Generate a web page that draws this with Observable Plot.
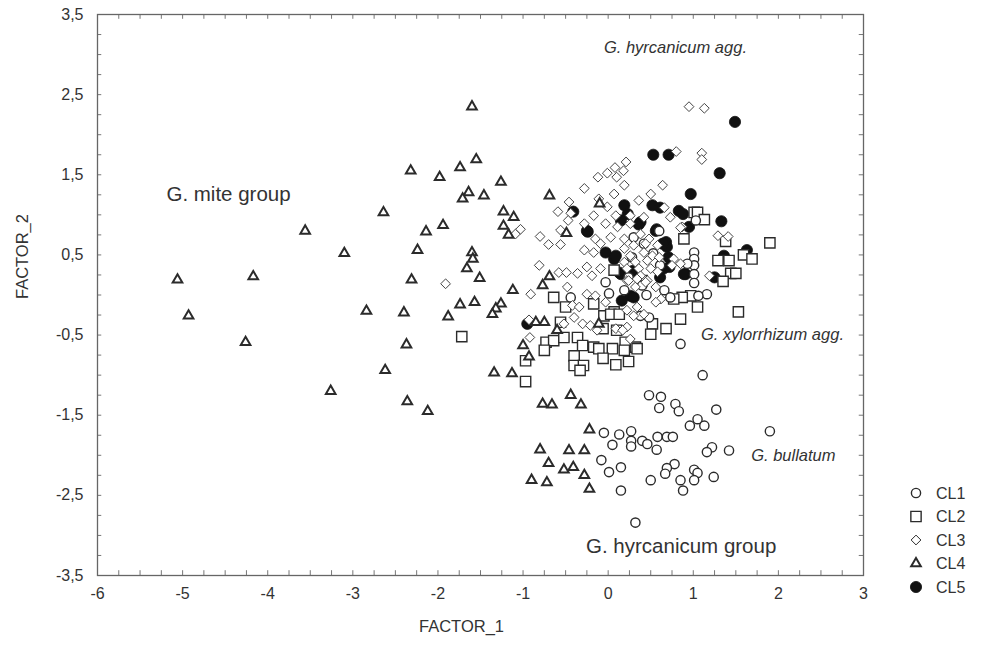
<!DOCTYPE html>
<html>
<head>
<meta charset="utf-8">
<script src="https://cdn.jsdelivr.net/npm/d3@7"></script>
<script src="https://cdn.jsdelivr.net/npm/@observablehq/plot@0.6"></script>
<style>
  html, body { margin: 0; padding: 0; background: #fff; }
  #wrap { position: relative; width: 994px; height: 648px; }
  #legend { position: absolute; left: 904px; top: 482px; }
</style>
</head>
<body>
<div id="wrap"><div id="chart"></div><div id="legend"></div></div>
<script>
// ---- data: [FACTOR_1, FACTOR_2] per cluster ----
const cl1 = [
  [1.03,0.93],[1.01,0.53],[1.01,0.45],[1.01,0.37],[1.01,0.26],[1.01,0.15],[1.16,0.01],[1.06,-0.01],
  [0.30,0.72],[0.42,0.64],[0.28,0.47],[0.24,0.22],[0.40,0.12],[0.93,0.39],[0.60,0.80],[-0.03,0.16],
  [0.19,0.06],[0.66,0.06],[-0.44,-0.03],[0.38,-0.26],[0.48,-0.28],[0.85,-0.61],[1.11,-1.00],[0.53,0.52],[0.61,0.37],
  [0.01,0.02],[0.73,-0.03],[0.45,0.00],
  [0.48,-1.25],[-0.05,-1.72],[0.13,-1.74],[0.27,-1.70],[0.05,-1.87],[0.27,-1.82],[0.27,-1.89],[0.40,-1.82],
  [0.46,-1.86],[-0.08,-2.06],[0.01,-2.21],[0.15,-2.15],[0.50,-2.31],[0.15,-2.44],[0.32,-2.84],
  [0.62,-1.27],[0.60,-1.41],[0.79,-1.36],[0.83,-1.45],[1.27,-1.43],[1.05,-1.55],[0.96,-1.63],[1.13,-1.63],
  [0.58,-1.77],[0.69,-1.77],[0.76,-1.77],[0.57,-1.93],[1.22,-1.90],[1.16,-1.96],[1.42,-1.94],[1.90,-1.70],
  [0.78,-2.11],[0.69,-2.16],[0.67,-2.23],[0.85,-2.31],[0.88,-2.44],[1.01,-2.18],[1.05,-2.22],[1.01,-2.31],[1.24,-2.27]
];
const cl2 = [
  [-1.72,-0.52],[0.89,0.70],[1.01,1.03],[1.05,1.03],[1.13,0.94],[1.38,0.67],[1.90,0.65],[1.59,0.50],[1.69,0.45],
  [1.29,0.43],[1.42,0.43],[1.44,0.27],[1.50,0.27],[1.35,0.17],[0.97,-0.01],[0.87,-0.03],[0.77,-0.05],[0.07,0.31],
  [0.40,0.18],[1.05,-0.15],[1.53,-0.21],[0.85,-0.30],[0.68,-0.42],[0.52,-0.36],[0.50,-0.49],[0.32,-0.65],
  [-0.05,-0.26],[0.07,-0.21],[0.20,-0.59],
  [-0.64,-0.03],[-0.50,-0.15],[-0.17,-0.11],[0.03,-0.24],[0.13,-0.24],[-0.56,-0.34],[-0.06,-0.42],[0.10,-0.44],
  [-0.73,-0.59],[-0.64,-0.57],[-0.52,-0.53],[-0.75,-0.69],[-0.36,-0.53],[-0.30,-0.63],[-0.17,-0.65],[-0.11,-0.67],
  [-0.40,-0.76],[-0.40,-0.88],[-0.29,-0.88],[-0.33,-0.94],[0.05,-0.67],[0.19,-0.69],[-0.06,-0.79],[0.09,-0.87],
  [0.24,-0.83],[0.34,-0.67],[-0.97,-0.82],[-0.97,-1.08]
];
const cl3 = [
  [-1.91,0.14],[0.95,2.35],[1.13,2.33],[0.80,1.79],[1.10,1.77],[1.10,1.69],
  [-1.03,0.82],[-1.09,0.76],[-0.80,0.73],[-0.70,0.63],[-0.56,0.63],[-0.56,0.81],[-0.59,1.04],[-0.46,1.16],
  [-0.12,1.47],[-0.01,1.52],[0.08,1.59],[0.21,1.66],[0.18,1.55],[0.10,1.47],[-0.44,1.02],[-0.47,0.93],
  [-0.81,0.37],[-0.58,0.28],[-0.49,0.28],[-0.36,0.27],
  [-0.28,1.33],[0.07,1.26],[0.19,1.37],[0.36,1.18],[0.50,1.26],[-0.11,1.20],[-0.01,1.10],[-0.17,0.99],
  [0.09,0.99],[0.26,0.99],[0.42,0.97],[-0.28,0.89],[-0.03,0.89],[0.11,0.85],[0.26,0.89],[0.38,0.76],
  [-0.15,0.70],[-0.09,0.64],[0.03,0.72],[0.19,0.70],[0.48,0.70],[0.30,0.62],[0.44,0.64],[0.58,0.62],
  [-0.17,0.53],[-0.28,0.56],[0.19,0.58],[0.26,0.49],[0.42,0.53],[0.52,0.49],[-0.25,0.35],[-0.09,0.33],
  [-0.19,0.24],[0.19,0.41],[0.32,0.41],[0.46,0.43],[0.60,0.47],[0.77,0.45],[0.85,0.39],[0.22,0.33],
  [0.36,0.33],[0.50,0.33],[0.75,0.37],[0.38,0.24],[0.58,0.29],[0.22,0.18],[0.46,0.18],[0.32,0.10],
  [0.56,0.10],[0.87,0.85],[0.73,0.97],[0.64,1.37],
  [1.29,0.74],[1.41,0.73],[1.19,0.24],[0.66,1.09],[0.85,0.84],
  [-0.91,0.01],[-0.93,-0.31],[-0.92,-0.53],[-0.48,0.10],[-0.42,-0.13],[-0.34,-0.15],[-0.52,-0.36],[-0.40,-0.28],
  [-0.30,-0.36],[-0.21,-0.38],[-0.25,0.01],[-0.15,-0.01],[-0.03,-0.09],[0.22,-0.19],[0.34,-0.15],[0.24,0.18],
  [0.34,0.20],[0.44,0.16],[0.22,-0.40],[0.09,-0.42],[0.26,-0.55],[-0.13,-0.44],
  [0.17,-0.44],[0.30,-0.26],[0.42,-0.24],[0.62,-0.05],[0.56,-0.09]
];
const cl4 = [
  [-1.60,2.35],[-1.55,1.69],[-2.32,1.55],[-1.98,1.47],[-1.74,1.59],[-1.26,1.41],[-1.64,1.28],[-1.71,1.20],
  [-1.46,1.24],[-2.64,1.03],[-3.56,0.80],[-2.14,0.79],[-1.94,0.87],[-3.10,0.52],[-2.24,0.56],[-1.60,0.53],
  [-1.59,0.45],[-1.66,0.33],[-1.51,0.21],[-5.06,0.19],[-4.17,0.23],[-2.31,0.19],[-1.74,-0.12],[-1.57,-0.09],
  [-2.84,-0.20],[-2.40,-0.22],[-1.88,-0.27],[-4.93,-0.26],[-4.26,-0.59],[-2.37,-0.62],[-2.62,-0.94],
  [-1.34,-0.97],[-3.26,-1.20],[-2.36,-1.33],[-2.12,-1.45],
  [-1.23,1.04],[-1.11,0.97],[-1.23,0.86],[-1.17,0.75],[-0.69,1.24],[-0.49,0.77],[-0.10,1.14],[-0.69,0.23],
  [-1.12,0.06],[-0.77,0.12],[-1.26,-0.11],[-1.32,-0.17],[-1.36,-0.24],[-0.85,-0.34],[-0.75,-0.34],[-0.60,-0.44],
  [-1.00,-0.63],[-0.93,-0.77],[-1.13,-0.98],[-0.11,-0.36],
  [-0.77,-1.36],[-0.66,-1.37],[-0.44,-1.25],[-0.32,-1.37],[-0.22,-1.68],[-0.80,-1.93],[-0.46,-1.94],[-0.28,-1.94],
  [-0.70,-2.10],[-0.52,-2.18],[-0.41,-2.15],[-0.28,-2.25],[-0.90,-2.31],[-0.72,-2.34],[-0.22,-2.42]
];
const cl5 = [
  [0.53,1.75],[0.71,1.75],[1.31,1.52],[1.49,2.16],[0.97,1.26],[-0.41,1.04],[-0.24,0.79],[0.19,1.12],[0.23,1.01],
  [0.52,1.12],[0.61,1.09],[0.83,1.05],[0.88,1.01],[1.33,0.92],[0.95,0.85],[-0.25,0.80],[0.38,0.91],[0.56,0.80],
  [-0.03,0.53],[0.07,0.45],[0.13,0.28],[0.68,0.66],[0.72,0.35],[0.91,0.26],[0.61,0.22],[0.26,-0.01],[1.63,0.56],
  [1.36,0.49],[1.25,0.22],[0.69,0.60],[0.71,0.47],[0.65,0.33],[0.89,0.26],[0.15,0.93],[0.57,0.82],[-0.95,-0.36],
  [0.16,-0.07],[0.30,-0.03],[0.15,0.26],[0.29,0.30],[0.36,0.88],[0.64,0.64],[0.09,0.49]
];

const xTicks = [-6,-5,-4,-3,-2,-1,0,1,2,3];
const yTicks = [-3.5,-2.5,-1.5,-0.5,0.5,1.5,2.5,3.5];
const xMinor = d3.range(-6, 3.001, 0.25);
const yMinor = d3.range(-3.5, 3.501, 0.25);

const labels = ["G. mite group","G. hyrcanicum agg.","G. xylorrhizum agg.","G. bullatum","G. hyrcanicum group"];
const labelX = [-5.19,-0.05,1.09,1.68,-0.26];
const labelY = [1.25,3.08,-0.50,-2.00,-3.14];
const labelItalic = [false,true,true,true,false];

const legendNames = ["CL1","CL2","CL3","CL4","CL5"];

const toObj = arr => arr.map(([x,y]) => ({x,y}));
const ink = "#2b2b2b";
const annot = labels.map((t,i) => ({t, x: labelX[i], y: labelY[i], it: labelItalic[i]}));

const chart = Plot.plot({
  width: 994, height: 648,
  marginLeft: 97, marginRight: 131, marginTop: 14, marginBottom: 73,
  x: {domain: [-6, 3]},
  y: {domain: [-3.5, 3.5]},
  style: {fontFamily: "'Liberation Sans', Arial, sans-serif", fontSize: "16px", color: "#333", background: "#fff"},
  marks: [
    Plot.ruleX(xMinor, {y1: -3.5, y2: -3.44, stroke: "#777", strokeWidth: 1}),
    Plot.ruleX(xMinor, {y1: 3.5, y2: 3.44, stroke: "#777", strokeWidth: 1}),
    Plot.ruleY(yMinor, {x1: -6, x2: -5.95, stroke: "#777", strokeWidth: 1}),
    Plot.ruleY(yMinor, {x1: 3, x2: 2.95, stroke: "#777", strokeWidth: 1}),
    Plot.frame({stroke: "#666", strokeWidth: 1.3}),
    Plot.axisX({ticks: xTicks, tickSize: 0, tickPadding: 12, tickFormat: d => String(d), label: null, fontSize: 16}),
    Plot.axisY({ticks: yTicks, tickSize: 0, tickPadding: 14, tickFormat: d => d.toFixed(1).replace(".", ","), label: null, fontSize: 16}),
    Plot.text(["FACTOR_1"], {frameAnchor: "bottom", dy: 56, dx: -19, fontSize: 16.5, fill: "#333"}),
    Plot.text(["FACTOR_2"], {frameAnchor: "left", dx: -75, dy: 4, rotate: -90, fontSize: 16.5, fill: "#333"}),
    Plot.dot(toObj(cl5), {x: "x", y: "y", r: 5.6, fill: "#111", stroke: "#111", strokeWidth: 0.8}),
    Plot.dot(toObj(cl2), {x: "x", y: "y", symbol: "square", r: 5.8, fill: "white", stroke: ink, strokeWidth: 1.4}),
    Plot.dot(toObj(cl1), {x: "x", y: "y", r: 4.6, fill: "white", stroke: ink, strokeWidth: 1.4}),
    Plot.dot(toObj(cl3), {x: "x", y: "y", symbol: "diamond2", r: 4.4, fill: "white", stroke: "#444", strokeWidth: 1}),
    Plot.dot(toObj(cl4), {x: "x", y: "y", symbol: "triangle2", r: 4.6, fill: "white", stroke: ink, strokeWidth: 2}),
    Plot.text(annot.filter(d => !d.it), {x: "x", y: "y", text: "t", textAnchor: "start", fontSize: 20.5, fill: "#333"}),
    Plot.text(annot.filter(d => d.it), {x: "x", y: "y", text: "t", textAnchor: "start", fontSize: 16.5, fontStyle: "italic", fill: "#333"})
  ]
});
document.getElementById("chart").appendChild(chart);

// legend
const symTypes = [d3.symbolCircle, d3.symbolSquare, d3.symbolDiamond2, d3.symbolTriangle2, d3.symbolCircle];
const symSizes = [Math.PI*4.6*4.6, Math.PI*5.8*5.8, Math.PI*4.4*4.4, Math.PI*4.6*4.6, Math.PI*5.6*5.6];
const symFill = ["white","white","white","white","#111"];
const symStrokeW = [1.4,1.4,1,2,0.8];
const lg = d3.select("#legend").append("svg").attr("width", 80).attr("height", 115)
  .style("font-family", "'Liberation Sans', Arial, sans-serif").style("font-size", "16px");
legendNames.forEach((name, i) => {
  const g = lg.append("g").attr("transform", `translate(12,${11 + i*23.5})`);
  g.append("path").attr("d", d3.symbol(symTypes[i], symSizes[i])()).attr("fill", symFill[i])
    .attr("stroke", i === 4 ? "#111" : ink).attr("stroke-width", symStrokeW[i]);
  g.append("text").attr("x", 20).attr("dy", "0.35em").attr("fill", "#333").text(name);
});
</script>
</body>
</html>
